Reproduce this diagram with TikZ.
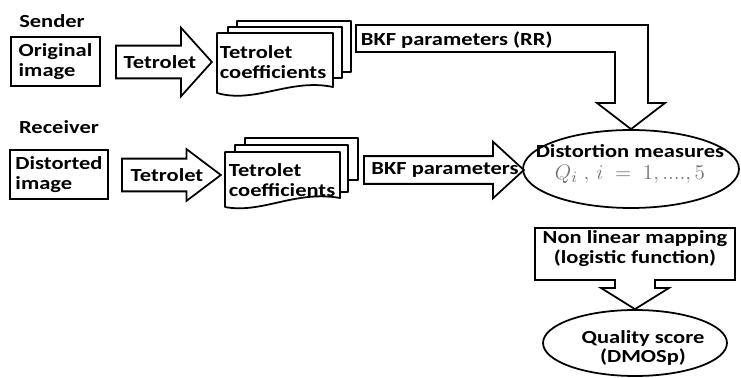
\documentclass[tikz,border=0pt]{standalone}
\usepackage{fontspec}
\setmainfont{Carlito}[FakeStretch=1.22]
\usetikzlibrary{shapes.geometric,shapes.arrows}

\begin{document}
\begin{tikzpicture}[x=0.02cm, y=-0.02cm, line width=1pt,
  txt/.style={font=\fontsize{10.5}{11.3}\selectfont\bfseries, inner sep=0, align=left},
  box/.style={draw, txt, minimum width=#1, minimum height=0.98cm},
  blkarrow/.style={draw, single arrow, fill=white, inner xsep=0, anchor=tail},
  docpage/.style={draw, fill=white, line join=round},
  oval/.style={draw, ellipse, inner sep=0},
  blk/.style={draw, fill=white, line join=miter}
]
\useasboundingbox (0,0) rectangle (741,378);

%% -- Sender row --------------------------------------------------------------
\node[txt] (sender) at (52,21) {Sender};
\node[box=1.78cm] (orig) at (55.5,61.5) {Original\\image};
\node[blkarrow, minimum height=1.92cm, inner ysep=0.31cm,
      single arrow head extend=0.36cm, single arrow tip angle=96] (tetS) at (115,62) {};
\node[txt] (tetStxt) at (160,62) {Tetrolet};

% coefficient stack (back to front)
\draw[docpage] (237,21) rectangle (351,72);
\draw[docpage] (228,27) rectangle (342,78);
\draw[docpage] (217,33) -- (333,33) -- (333,87)
  .. controls (290,78) and (255,104) .. (217,93) -- cycle;
\node[txt, anchor=west] (coefS) at (219,62) {Tetrolet\\coefficients};

%% -- Receiver row ------------------------------------------------------------
\node[txt] (recv) at (59,127) {Receiver};
\node[box=1.96cm] (dist0) at (59,174.5) {Distorted\\image};
\node[blkarrow, minimum height=1.98cm, inner ysep=0.31cm,
      single arrow head extend=0.19cm, single arrow tip angle=74] (tetR) at (121,175) {};
\node[txt] (tetRtxt) at (167,175) {Tetrolet};

\draw[docpage] (245,138) rectangle (358,180);
\draw[docpage] (235,145) rectangle (348,192);
\draw[docpage] (225,152) -- (340,152) -- (340,198)
  .. controls (295,190) and (262,214) .. (225,207) -- cycle;
\node[txt, anchor=west] (coefR) at (228,180) {Tetrolet\\coefficients};

%% -- Measures ----------------------------------------------------------------
\node[oval, minimum width=4.32cm, minimum height=1.56cm] (dist) at (631,169) {};
\node[txt, align=center] (distlbl) at (630,164)
  {Distortion measures\\[1pt]{\color{black!55}\fontsize{13}{15}\selectfont$Q_i\;,\,i\;=\;1,....,5$}};

\node[blkarrow, minimum height=3.2cm, inner ysep=0.26cm,
      single arrow head extend=0.29cm, single arrow tip angle=85] (bkfR) at (363,170) {};
\node[txt] (bkfRtxt) at (445,170) {BKF parameters};

% reduced reference side info, bent down into the measures
\draw[blk] (356,25) -- (648,25) -- (648,103) -- (665,103) -- (dist.north)
  -- (597,103) -- (615,103) -- (615,52) -- (356,52) -- cycle;
\node[txt, anchor=west] (bkfS) at (360,40) {BKF parameters (RR)};

%% -- Mapping and score -------------------------------------------------------
\node[oval, minimum width=3.68cm, minimum height=1.32cm] (qual) at (635,343) {};
\node[txt, align=center] (quallbl) at (643,348) {Quality score\\(DMOSp)};

\draw[blk] (535,228) -- (735,228) -- (735,280) -- (655,280) -- (655,288)
  -- (669,288) -- (qual.north) -- (601,288) -- (615,288) -- (615,280)
  -- (535,280) -- cycle;
\node[txt, align=center] (maplbl) at (635,249) {Non linear mapping\\(logistic function)};

\end{tikzpicture}
\end{document}
